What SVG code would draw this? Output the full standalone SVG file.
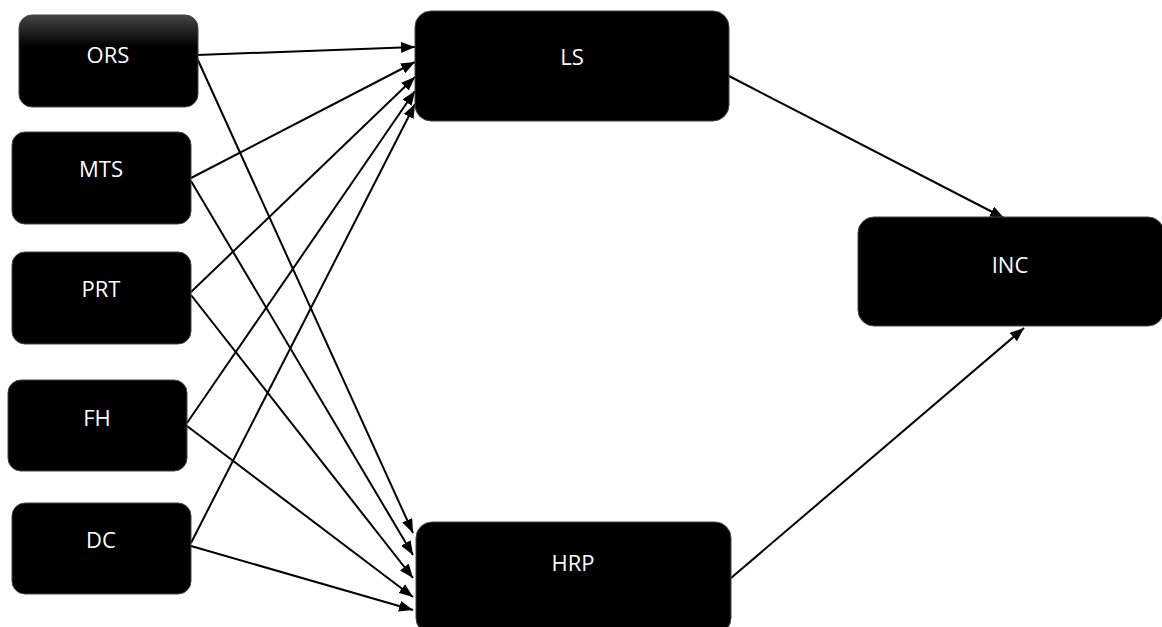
<svg xmlns="http://www.w3.org/2000/svg" width="1162" height="627" viewBox="0 0 1162 627">
<defs>
<style>
.box{fill:#000;stroke:#444;stroke-width:1}
.lbl{fill:#fff;font-family:"Open Sans","Liberation Sans",sans-serif;font-size:22px;text-anchor:middle}
.con{stroke:#000;stroke-width:2;fill:none;marker-end:url(#ah)}
</style>
<linearGradient id="g1" x1="0" y1="0" x2="0" y2="1">
<stop offset="0" stop-color="#444"/><stop offset="0.35" stop-color="#000"/><stop offset="1" stop-color="#000"/>
</linearGradient>
<marker id="ah" markerWidth="14" markerHeight="11" refX="14" refY="5.5" orient="auto" markerUnits="userSpaceOnUse">
<path d="M0,0 L14,5.5 L0,11 z" fill="#000"/>
</marker>
</defs>
<rect width="1162" height="627" fill="#fff"/>
<g id="connectors">
<line class="con" x1="197" y1="55" x2="415" y2="47"/>
<line class="con" x1="197" y1="58" x2="413" y2="533"/>
<line class="con" x1="191" y1="178" x2="415" y2="62"/>
<line class="con" x1="191" y1="181" x2="413" y2="555"/>
<line class="con" x1="191" y1="292" x2="415" y2="77"/>
<line class="con" x1="191" y1="295" x2="413" y2="578"/>
<line class="con" x1="187" y1="423" x2="415" y2="91"/>
<line class="con" x1="187" y1="426" x2="413" y2="597"/>
<line class="con" x1="191" y1="543" x2="415" y2="104"/>
<line class="con" x1="191" y1="546" x2="413" y2="610"/>
<line class="con" x1="729" y1="76" x2="1004" y2="218"/>
<line class="con" x1="731" y1="578" x2="1024" y2="328"/>
</g>
<g id="ORS"><rect class="box" x="19" y="15" width="179" height="92" rx="13" style="fill:url(#g1)"/><text class="lbl" x="108" y="63">ORS</text></g>
<g id="MTS"><rect class="box" x="12" y="132" width="179" height="92" rx="13"/><text class="lbl" x="101" y="177">MTS</text></g>
<g id="PRT"><rect class="box" x="12" y="252" width="179" height="92" rx="13"/><text class="lbl" x="101" y="297">PRT</text></g>
<g id="FH"><rect class="box" x="8" y="380" width="179" height="91" rx="13"/><text class="lbl" x="97" y="426">FH</text></g>
<g id="DC"><rect class="box" x="12" y="503" width="179" height="91" rx="13"/><text class="lbl" x="101" y="548">DC</text></g>
<g id="LS"><rect class="box" x="415" y="11" width="314" height="110" rx="16"/><text class="lbl" x="572" y="65">LS</text></g>
<g id="HRP"><rect class="box" x="416" y="522" width="315" height="112" rx="16"/><text class="lbl" x="573" y="571">HRP</text></g>
<g id="INC"><rect class="box" x="858" y="217" width="306" height="109" rx="16"/><text class="lbl" x="1010" y="273">INC</text></g>
</svg>
